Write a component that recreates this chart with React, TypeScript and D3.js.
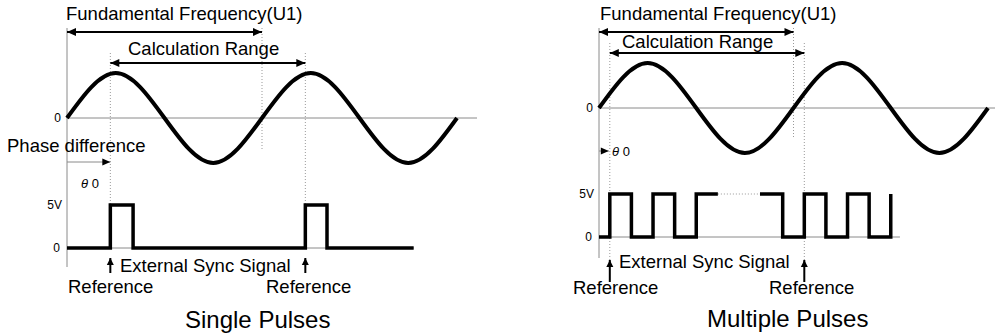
import React from "react";
import * as d3 from "d3";

// ---- data ----
const sineDeg = [0, 90, 180, 270, 360, 450, 540, 630, 720];
const sineVal = [0, 1, 0, -1, 0, 1, 0, -1, 0];

const singleDeg = [0, 80, 122, 440, 480, 640];
const singleLevel = [0, 5, 0, 5, 0, 0];

const multiDegA = [0, 20, 60, 100, 140, 180, 220];
const multiLevelA = [0, 5, 0, 5, 0, 5, 5];
const multiDegB = [298, 340, 380, 420, 460, 500, 540];
const multiLevelB = [5, 0, 5, 0, 5, 0, 5];

const panelTitles = ["Single Pulses", "Multiple Pulses"];
const theta0 = [80, 20];
const calcStart = [80, 20];
const calcEnd = [440, 380];
const fundEnd = [360, 360];

const FONT = "'Liberation Sans', Arial, sans-serif";
const GREY = "#8a8a8a";

type Panel = {
  x0: number; x720: number; sineZero: number; amp: number;
  p0: number; p5: number;
};

function Arrow({ x1, y1, x2, y2, w = 2, head = 9, hw = 4, both = false, color = "#000" }:
  { x1: number; y1: number; x2: number; y2: number; w?: number; head?: number; hw?: number; both?: boolean; color?: string }) {
  const ang = Math.atan2(y2 - y1, x2 - x1);
  const tri = (tx: number, ty: number, a: number) => {
    const bx = tx - head * Math.cos(a), by = ty - head * Math.sin(a);
    const px = -Math.sin(a) * hw, py = Math.cos(a) * hw;
    return `${tx},${ty} ${bx + px},${by + py} ${bx - px},${by - py}`;
  };
  return (
    <g>
      <line x1={x1} y1={y1} x2={x2} y2={y2} stroke={color} strokeWidth={w} />
      <polygon points={tri(x2, y2, ang)} fill="#000" />
      {both && <polygon points={tri(x1, y1, ang + Math.PI)} fill="#000" />}
    </g>
  );
}

function Dotted({ x, y1, y2 }: { x: number; y1: number; y2: number }) {
  return <line x1={x} x2={x} y1={y1} y2={y2} stroke="#999" strokeWidth={1} strokeDasharray="1,2" />;
}

export default function App() {
  const panels: Panel[] = [
    { x0: 67, x720: 457, sineZero: 118, amp: 45, p0: 248, p5: 205 },
    { x0: 599, x720: 988, sineZero: 108, amp: 45, p0: 237, p5: 194 },
  ];

  const sinePts = sineDeg.map((d, i) => [d, sineVal[i]] as [number, number]);

  return (
    <svg width={995} height={334} style={{ position: "absolute", left: 0, top: 0, background: "#fff" }}
      fontFamily={FONT}>
      {panels.map((p, k) => {
        const x = d3.scaleLinear().domain([0, 720]).range([p.x0, p.x720]);
        const ys = d3.scaleLinear().domain([-1, 1]).range([p.sineZero + p.amp, p.sineZero - p.amp]);
        const yp = d3.scaleLinear().domain([0, 5]).range([p.p0, p.p5]);
        const sineLine = d3.line<[number, number]>().x(d => x(d[0])).y(d => ys(d[1])).curve(d3.curveNatural);
        const stepLine = d3.line<[number, number]>().x(d => x(d[0])).y(d => yp(d[1])).curve(d3.curveStepAfter);
        const isSingle = k === 0;
        const axisBottom = isSingle ? 267 : 258;
        const sineAxisEnd = isSingle ? 477 : 995;
        const calcY = isSingle ? 63 : 53;
        const calcTextY = isSingle ? 55 : 48;
        const calcTextX = isSingle ? 128 : 622;
        const xc0 = x(calcStart[k]);
        const xc1 = x(calcEnd[k]);
        const xf = x(fundEnd[k]);
        return (
          <g key={k}>
            {/* axes */}
            <line x1={p.x0} x2={p.x0} y1={28} y2={axisBottom} stroke={GREY} strokeWidth={1} />
            <line x1={p.x0} x2={sineAxisEnd} y1={p.sineZero} y2={p.sineZero} stroke={GREY} strokeWidth={1} />
            <line x1={p.x0} x2={isSingle ? x(640) : x(557)} y1={p.p0} y2={p.p0} stroke={GREY} strokeWidth={1} />
            {/* dotted guides */}
            <Dotted x={xf} y1={28} y2={isSingle ? 150 : 138} />
            <Dotted x={xc0} y1={isSingle ? 53 : 43} y2={isSingle ? p.p0 : 260} />
            <Dotted x={xc1} y1={isSingle ? 53 : 43} y2={isSingle ? p.p5 : 260} />
            {!isSingle && (
              <line x1={x(220)} x2={x(298)} y1={p.p5} y2={p.p5} stroke="#999" strokeWidth={1} strokeDasharray="1,2" />
            )}
            {/* arrows */}
            <Arrow x1={p.x0} y1={32} x2={xf} y2={32} both w={2.2} />
            <Arrow x1={xc0} y1={calcY} x2={xc1} y2={calcY} both w={2.2} />
            {isSingle ? (
              <Arrow x1={p.x0} y1={162} x2={x(theta0[k])} y2={162} w={1} color={GREY} head={8} hw={3.5} />
            ) : (
              <Arrow x1={p.x0} y1={151} x2={x(theta0[k]) - 1} y2={151} w={1} color={GREY} head={8} hw={3.5} />
            )}
            <Arrow x1={xc0} y1={isSingle ? 273 : 282} x2={xc0} y2={isSingle ? 258 : 260} w={2} head={7} hw={3.5} />
            <Arrow x1={xc1} y1={isSingle ? 273 : 282} x2={xc1} y2={isSingle ? 258 : 260} w={2} head={7} hw={3.5} />
            {/* sine */}
            <path d={sineLine(sinePts) || ""} fill="none" stroke="#000" strokeWidth={4} strokeLinejoin="round" />
            {/* pulses */}
            {isSingle ? (
              <path d={stepLine(singleDeg.map((d, i) => [d, singleLevel[i]] as [number, number])) || ""}
                fill="none" stroke="#000" strokeWidth={3.5} />
            ) : (
              <>
                <path d={stepLine(multiDegA.map((d, i) => [d, multiLevelA[i]] as [number, number])) || ""}
                  fill="none" stroke="#000" strokeWidth={3.5} />
                <path d={stepLine(multiDegB.map((d, i) => [d, multiLevelB[i]] as [number, number])) || ""}
                  fill="none" stroke="#000" strokeWidth={3.5} />
              </>
            )}
            {/* labels */}
            <text x={isSingle ? 66 : 600} y={20} fontSize={18.5}>Fundamental Frequency(U1)</text>
            <text x={calcTextX} y={calcTextY} fontSize={18.5}>Calculation Range</text>
            <text x={p.x0 - 6} y={p.sineZero} fontSize={12} textAnchor="end" dominantBaseline="central">0</text>
            <text x={p.x0 - 5} y={p.p5} fontSize={12} textAnchor="end" dominantBaseline="central">5V</text>
            <text x={p.x0 - 7} y={p.p0} fontSize={12} textAnchor="end" dominantBaseline="central">0</text>
            {isSingle ? (
              <>
                <text x={7} y={152} fontSize={18.5}>Phase difference</text>
                <text x={81} y={188} fontSize={13}><tspan fontStyle="italic">θ</tspan> 0</text>
              </>
            ) : (
              <text x={612} y={156} fontSize={13}><tspan fontStyle="italic">θ</tspan> 0</text>
            )}
            <text x={isSingle ? 120 : 619} y={isSingle ? 272 : 268} fontSize={18.5}>External Sync Signal</text>
            <text x={isSingle ? 68 : 573} y={isSingle ? 293 : 294} fontSize={18.5}>Reference</text>
            <text x={isSingle ? 266 : 769} y={isSingle ? 293 : 294} fontSize={18.5}>Reference</text>
            <text x={isSingle ? 185 : 707} y={isSingle ? 328 : 327} fontSize={24}>{panelTitles[k]}</text>
          </g>
        );
      })}
    </svg>
  );
}
